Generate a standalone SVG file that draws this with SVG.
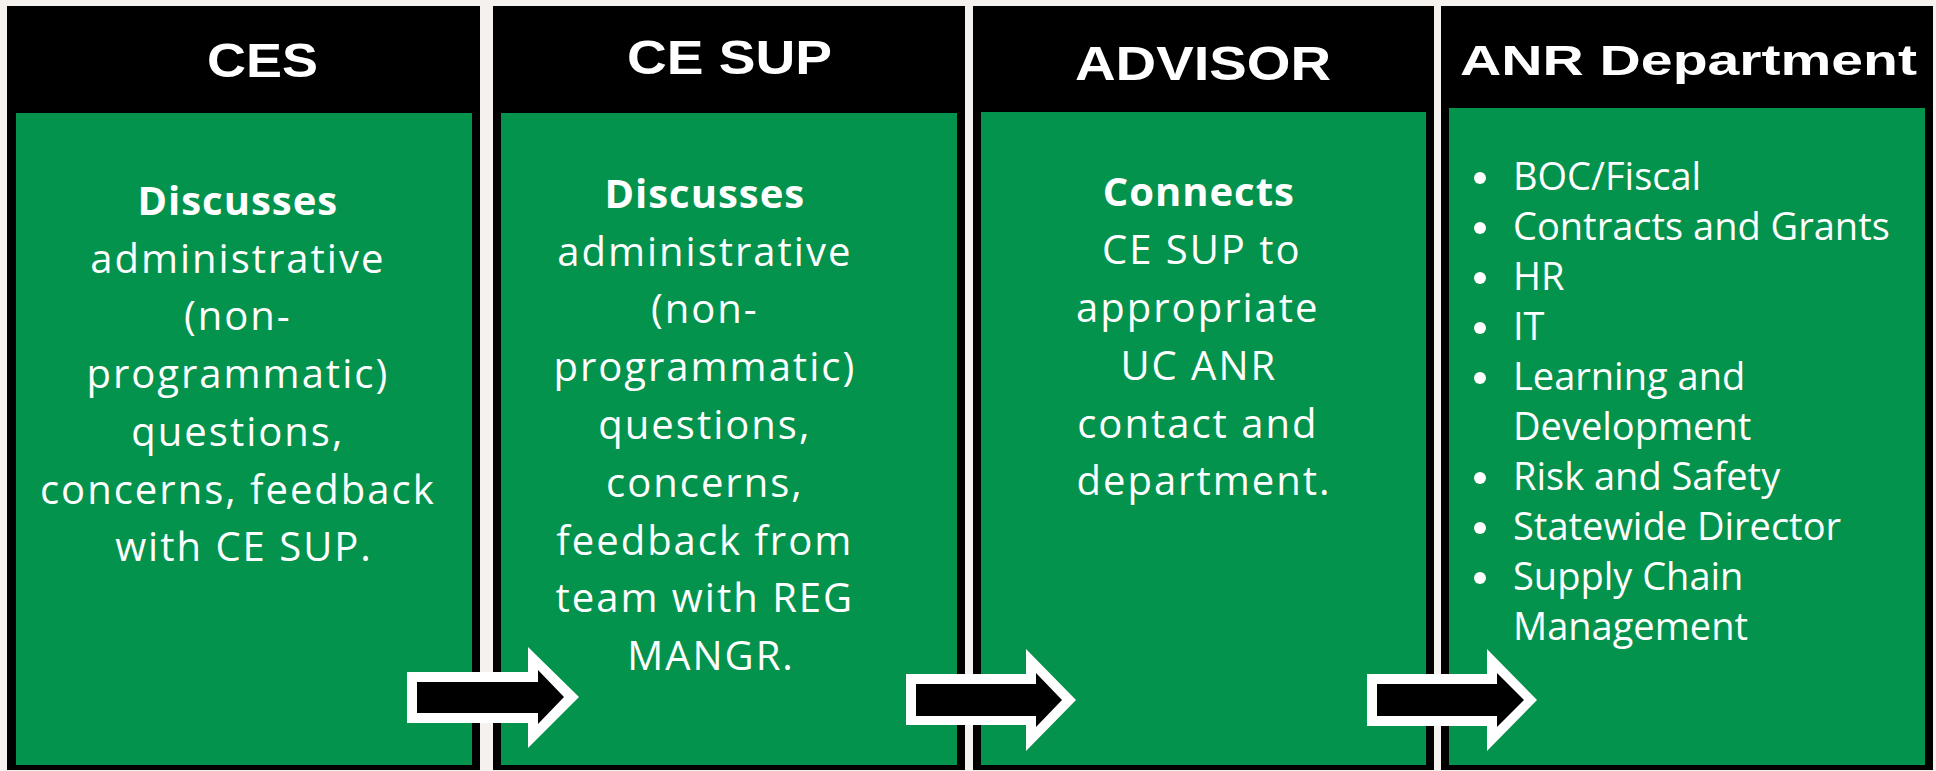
<svg xmlns="http://www.w3.org/2000/svg" width="1936" height="771" viewBox="0 0 1936 771">
<style>
.bg{fill:#F4F1EE}
.frame{fill:#000}
.card{fill:#03934D}
.hd{font-family:"Liberation Sans",Arial,sans-serif;font-weight:bold;fill:#fff}
.bd{font-family:"Open Sans","Noto Sans",sans-serif;font-size:40px;fill:#fff;text-anchor:middle;letter-spacing:2px}
.bd .b{font-weight:bold;letter-spacing:1px}
.li{font-family:"Open Sans","Noto Sans",sans-serif;font-size:38px;fill:#fff}
.arr-o{fill:#fff}
.arr-i{fill:#000}
</style>
<rect class="bg" x="0" y="0" width="1936" height="771"/>

<g id="node-ces">
<rect class="frame" x="7" y="6" width="473" height="764"/>
<rect class="card" x="16" y="113" width="456" height="652"/>
<text class="hd" x="207" y="77" font-size="49" textLength="111" lengthAdjust="spacingAndGlyphs">CES</text>
<text class="bd">
<tspan class="b" x="244" y="215">Discusses</tspan>
<tspan x="244" y="273">administrative</tspan>
<tspan x="244" y="330">(non-</tspan>
<tspan x="244" y="388">programmatic)</tspan>
<tspan x="244" y="446">questions,</tspan>
<tspan x="244" y="504">concerns, feedback</tspan>
<tspan x="244" y="561">with CE SUP.</tspan>
</text>
</g>

<g id="node-cesup">
<rect class="frame" x="493" y="6" width="472" height="764"/>
<rect class="card" x="501" y="113" width="456" height="652"/>
<text class="hd" x="627" y="74" font-size="49" textLength="205" lengthAdjust="spacingAndGlyphs">CE SUP</text>
<text class="bd">
<tspan class="b" x="711" y="208">Discusses</tspan>
<tspan x="711" y="266">administrative</tspan>
<tspan x="711" y="323">(non-</tspan>
<tspan x="711" y="381">programmatic)</tspan>
<tspan x="711" y="439">questions,</tspan>
<tspan x="711" y="497">concerns,</tspan>
<tspan x="711" y="555">feedback from</tspan>
<tspan x="711" y="612">team with REG</tspan>
<tspan x="711" y="670">MANGR.</tspan>
</text>
</g>

<g id="node-advisor">
<rect class="frame" x="973" y="6" width="461" height="764"/>
<rect class="card" x="981" y="112" width="445" height="653"/>
<text class="hd" x="1075" y="80" font-size="48" textLength="256" lengthAdjust="spacingAndGlyphs">ADVISOR</text>
<text class="bd">
<tspan class="b" x="1205" y="206">Connects</tspan>
<tspan x="1208" y="264">CE SUP to</tspan>
<tspan x="1204" y="322">appropriate</tspan>
<tspan x="1205" y="380">UC ANR</tspan>
<tspan x="1204" y="438">contact and</tspan>
<tspan x="1204" y="495">department.</tspan>
</text>
</g>

<g id="node-anr">
<rect class="frame" x="1441" y="6" width="492" height="764"/>
<rect class="card" x="1449" y="108" width="476" height="657"/>
<text class="hd" x="1460" y="75" font-size="42" textLength="457" lengthAdjust="spacingAndGlyphs">ANR Department</text>
<g fill="#fff">
<circle cx="1480" cy="178" r="6"/>
<circle cx="1480" cy="228" r="6"/>
<circle cx="1480" cy="278" r="6"/>
<circle cx="1480" cy="328" r="6"/>
<circle cx="1480" cy="378" r="6"/>
<circle cx="1480" cy="478" r="6"/>
<circle cx="1480" cy="528" r="6"/>
<circle cx="1480" cy="578" r="6"/>
</g>
<text class="li">
<tspan x="1513" y="190">BOC/Fiscal</tspan>
<tspan x="1513" y="240">Contracts and Grants</tspan>
<tspan x="1513" y="290">HR</tspan>
<tspan x="1513" y="340">IT</tspan>
<tspan x="1513" y="390">Learning and</tspan>
<tspan x="1513" y="440">Development</tspan>
<tspan x="1513" y="490">Risk and Safety</tspan>
<tspan x="1513" y="540">Statewide Director</tspan>
<tspan x="1513" y="590">Supply Chain</tspan>
<tspan x="1513" y="640">Management</tspan>
</text>
</g>

<g id="connectors">
<g id="arrow-1">
<polygon class="arr-o" points="407,672 528,672 528,647 579,697 528,748 528,723 407,723"/>
<polygon class="arr-i" points="417,682 538,682 538,670 564,697 538,724 538,713 417,713"/>
</g>
<g id="arrow-2">
<polygon class="arr-o" points="906,674 1026,674 1026,649 1076,700 1026,751 1026,725 906,725"/>
<polygon class="arr-i" points="916,684 1036,684 1036,673 1062,700 1036,727 1036,716 916,716"/>
</g>
<g id="arrow-3">
<polygon class="arr-o" points="1367,674 1487,674 1487,649 1537,700 1487,751 1487,726 1367,726"/>
<polygon class="arr-i" points="1377,684 1497,684 1497,673 1524,700 1497,727 1497,716 1377,716"/>
</g>
</g>
</svg>
